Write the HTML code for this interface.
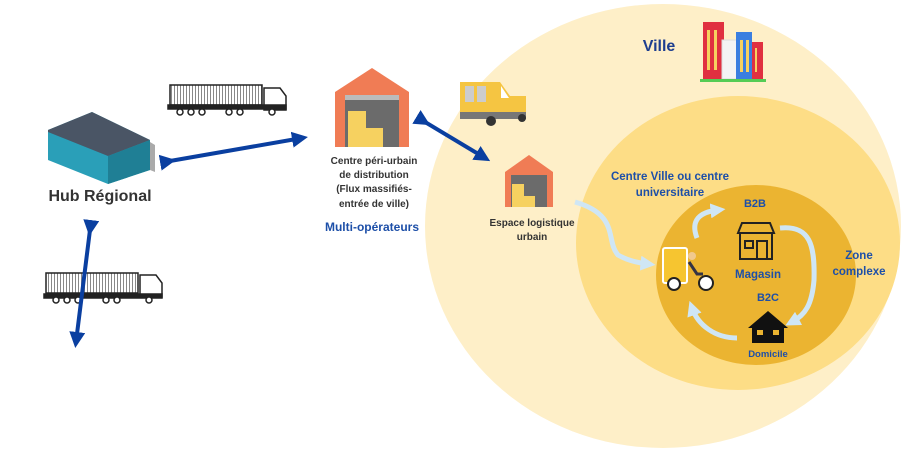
<!DOCTYPE html>
<html><head><meta charset="utf-8"><style>
html,body{margin:0;padding:0;background:#fff;width:907px;height:456px;overflow:hidden}
svg text{font-family:"Liberation Sans",sans-serif;font-weight:bold}
</style></head><body>
<svg width="907" height="456" viewBox="0 0 907 456" xmlns="http://www.w3.org/2000/svg">
<defs>
<marker id="ab" markerWidth="4" markerHeight="4" refX="2.5" refY="2" orient="auto" markerUnits="strokeWidth"><path d="M0,0 L4,2 L0,4 z" fill="#0a3fa0"/></marker>
<marker id="al" markerWidth="3" markerHeight="3" refX="1.5" refY="1.5" orient="auto" markerUnits="strokeWidth"><path d="M0,0 L3,1.5 L0,3 z" fill="#cfe6f5"/></marker>
<pattern id="rib" width="3" height="10" patternUnits="userSpaceOnUse"><rect width="3" height="10" fill="#fff"/><rect width="1" height="10" fill="#888"/></pattern>
</defs>
<ellipse cx="663" cy="226" rx="238" ry="222" fill="#feefc8"/>
<ellipse cx="738" cy="243" rx="162" ry="147" fill="#fddd86"/>
<ellipse cx="756" cy="275" rx="100" ry="90" fill="#ebb431"/>

<!-- hub -->
<g>
<polygon points="48,130 92,112 150,140 150,170 108,184 48,160" fill="#2a9fb8"/>
<polygon points="48,130 92,112 150,140 108,156 48,132" fill="#4a5565"/>
<polygon points="108,156 150,140 150,170 108,184" fill="#1f7f95"/>
<polygon points="150,142 155,145 155,172 150,170" fill="#aaa"/>
</g>
<text x="100" y="201" font-size="16" fill="#333" text-anchor="middle">Hub Régional</text>

<!-- trucks -->
<g stroke="#222" stroke-width="1.5">
<rect x="170" y="85" width="92" height="20" fill="url(#rib)"/>
<path d="M264,88 h16 l6,8 v14 h-22 z" fill="#fff"/>
<rect x="168" y="105" width="118" height="4" fill="#222"/>
<g fill="#fff"><circle cx="180" cy="112" r="3"/><circle cx="191" cy="112" r="3"/><circle cx="202" cy="112" r="3"/><circle cx="229" cy="112" r="3"/><circle cx="240" cy="112" r="3"/><circle cx="272" cy="112" r="3"/></g>
<rect x="46" y="273" width="92" height="20" fill="url(#rib)"/>
<path d="M140,275 h16 l6,8 v14 h-22 z" fill="#fff"/>
<rect x="44" y="294" width="118" height="4" fill="#222"/>
<g fill="#fff"><circle cx="56" cy="300" r="3"/><circle cx="67" cy="300" r="3"/><circle cx="78" cy="300" r="3"/><circle cx="106" cy="300" r="3"/><circle cx="117" cy="300" r="3"/><circle cx="149" cy="300" r="3"/></g>
</g>

<!-- blue arrows -->
<g stroke="#0a3fa0" stroke-width="4" fill="none">
<line x1="170" y1="161" x2="302" y2="138" marker-start="url(#ab)" marker-end="url(#ab)"/>
<line x1="90" y1="230" x2="76" y2="342" marker-start="url(#ab)" marker-end="url(#ab)"/>
<line x1="425" y1="122" x2="485" y2="158" marker-start="url(#ab)" marker-end="url(#ab)"/>
</g>

<!-- warehouse 1 -->
<polygon points="335,92 372,68 409,92 409,147 335,147" fill="#f07c55"/>
<rect x="345" y="96" width="54" height="51" fill="#6b6b6b"/>
<rect x="345" y="95" width="54" height="5" fill="#bbb"/>
<rect x="348" y="111" width="18" height="36" fill="#f6d160"/>
<rect x="366" y="128" width="17" height="19" fill="#f6d160"/>
<text font-size="10" fill="#333" text-anchor="middle"><tspan x="374" y="164">Centre péri-urbain</tspan><tspan x="374" y="178">de distribution</tspan><tspan x="374" y="192">(Flux massifiés-</tspan><tspan x="374" y="207">entrée de ville)</tspan></text>
<text x="372" y="231" font-size="12" fill="#1d4fa8" text-anchor="middle">Multi-opérateurs</text>

<!-- van -->
<path d="M460,82 h40 l10,14 h16 v18 h-66 z" fill="#f5c542"/>
<rect x="465" y="86" width="9" height="16" fill="#ccc"/><rect x="477" y="86" width="9" height="16" fill="#ccc"/>
<path d="M501,86 l8,12 h-8 z" fill="#fff"/>
<rect x="460" y="112" width="66" height="7" fill="#777"/>
<circle cx="491" cy="121" r="5" fill="#333"/><circle cx="522" cy="118" r="4" fill="#333"/>

<!-- warehouse 2 -->
<polygon points="505,172 529,155 553,172 553,207 505,207" fill="#f07c55"/>
<rect x="511" y="175" width="36" height="32" fill="#6b6b6b"/>
<rect x="512" y="184" width="12" height="23" fill="#f6d160"/><rect x="524" y="196" width="11" height="11" fill="#f6d160"/>
<text font-size="10" fill="#333" text-anchor="middle"><tspan x="532" y="226">Espace logistique</tspan><tspan x="532" y="240">urbain</tspan></text>

<!-- buildings -->
<rect x="703" y="22" width="21" height="57" fill="#e03040"/>
<rect x="722" y="40" width="16" height="39" fill="#f4f4f4" stroke="#ddd"/>
<rect x="736" y="32" width="16" height="47" fill="#3a7ee0"/>
<rect x="752" y="42" width="11" height="37" fill="#e03040"/>
<g fill="#f6d160"><rect x="707" y="30" width="3" height="40"/><rect x="714" y="30" width="3" height="40"/><rect x="740" y="40" width="3" height="32"/><rect x="746" y="40" width="3" height="32"/><rect x="755" y="48" width="2" height="24"/></g>
<rect x="700" y="79" width="66" height="3" fill="#5c5"/>
<text x="659" y="51" font-size="16" fill="#1d3e8f" text-anchor="middle">Ville</text>

<text font-size="11.5" fill="#1d4fa8" text-anchor="middle"><tspan x="670" y="180">Centre Ville ou centre</tspan><tspan x="670" y="196">universitaire</tspan></text>
<text x="755" y="207" font-size="11" fill="#1d4fa8" text-anchor="middle" font-weight="normal">B2B</text>
<text x="758" y="278" font-size="11.5" fill="#1d4fa8" text-anchor="middle" font-weight="normal">Magasin</text>
<text x="768" y="301" font-size="11" fill="#1d4fa8" text-anchor="middle" font-weight="normal">B2C</text>
<text x="768" y="357" font-size="9.5" fill="#1d4fa8" text-anchor="middle" font-weight="normal">Domicile</text>
<text font-size="11.5" fill="#1d4fa8" text-anchor="middle"><tspan x="859" y="259">Zone</tspan><tspan x="859" y="275">complexe</tspan></text>

<!-- light arrows -->
<g stroke="#cfe6f5" stroke-width="5" fill="none">
<path d="M575,202 C620,215 605,240 618,255 Q630,262 648,264" marker-end="url(#al)"/>
<path d="M697,238 C690,220 700,212 718,210" marker-end="url(#al)"/>
<path d="M780,228 C810,225 815,245 814,280 C812,305 805,315 792,322" marker-end="url(#al)"/>
<path d="M737,338 C715,338 698,325 692,308" marker-end="url(#al)"/>
</g>

<!-- shop -->
<g stroke="#222" stroke-width="2" fill="none">
<path d="M738,233 l4,-10 h28 l4,10 z"/>
<rect x="740" y="233" width="32" height="26"/>
<rect x="745" y="241" width="8" height="7"/>
<rect x="757" y="241" width="10" height="18"/>
</g>
<!-- house -->
<polygon points="748,328 768,311 788,328 784,328 784,343 752,343 752,328" fill="#111"/>
<rect x="757" y="330" width="6" height="5" fill="#ebb431"/><rect x="773" y="330" width="6" height="5" fill="#ebb431"/>
<!-- cargo bike -->
<rect x="663" y="248" width="24" height="35" rx="2" fill="#f6c530" stroke="#fff" stroke-width="2"/>
<circle cx="674" cy="284" r="6" fill="#fff" stroke="#222" stroke-width="2"/>
<circle cx="706" cy="283" r="7" fill="#fff" stroke="#222" stroke-width="2"/>
<circle cx="692" cy="256" r="4" fill="#f1c98e"/>
<path d="M689,262 l8,12 h6" stroke="#334" stroke-width="3" fill="none"/>
</svg>
</body></html>
